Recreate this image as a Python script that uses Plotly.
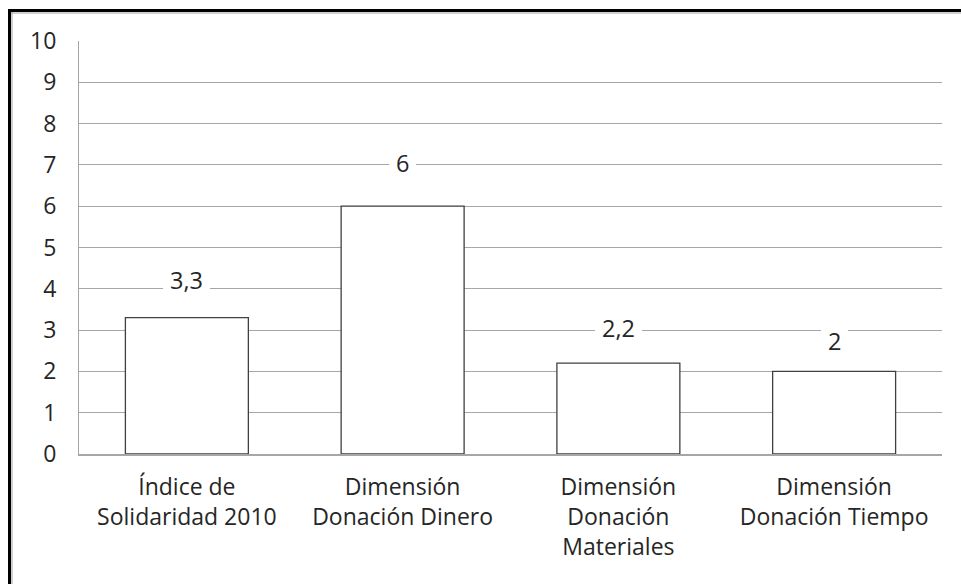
import plotly.graph_objects as go

categories = ["Índice de<br>Solidaridad 2010", "Dimensión<br>Donación Dinero",
              "Dimensión<br>Donación<br>Materiales", "Dimensión<br>Donación Tiempo"]
values = [3.3, 6, 2.2, 2]
y_ticks = list(range(0, 11))

# styling: vertical offset (px) of each data label above its bar
label_offsets_px = [38, 43, 35, 30]

W, H = 961, 584
L, R, T, B = 79, 19, 41, 130
pw, ph = W - L - R, H - T - B

def px_x(px):
    return (px - L) / pw

def px_y(py):
    return (H - B - py) / ph

FONT = "Open Sans"
TXT = "#262626"
fig = go.Figure()
fig.add_trace(go.Bar(
    x=categories, y=values,
    marker=dict(color="white", line=dict(color="#404040", width=1.3)),
    hoverinfo="skip",
))

for c, v, off in zip(categories, values, label_offsets_px):
    fig.add_annotation(
        x=c, y=v, xref="x", yref="y",
        text=f"{v:g}".replace(".", ","),
        showarrow=False, yanchor="middle", yshift=off,
        bgcolor="white", borderpad=7, borderwidth=0,
        font=dict(family=FONT, size=23.5, color=TXT),
    )

# outer frame (top and left edges visible)
fig.add_shape(type="line", xref="paper", yref="paper",
              x0=px_x(8), x1=px_x(W + 5), y0=px_y(13), y1=px_y(13),
              line=dict(color="#a0a0a0", width=1))
fig.add_shape(type="line", xref="paper", yref="paper",
              x0=px_x(12), x1=px_x(12), y0=px_y(12), y1=px_y(H + 5),
              line=dict(color="#a0a0a0", width=1))
fig.add_shape(type="line", xref="paper", yref="paper",
              x0=px_x(8), x1=px_x(W + 5), y0=px_y(10.5), y1=px_y(10.5),
              line=dict(color="black", width=3))
fig.add_shape(type="line", xref="paper", yref="paper",
              x0=px_x(9.5), x1=px_x(9.5), y0=px_y(9), y1=px_y(H + 5),
              line=dict(color="black", width=3))

fig.update_layout(
    width=W, height=H,
    margin=dict(l=L, r=R, t=T, b=B),
    paper_bgcolor="white", plot_bgcolor="white",
    bargap=0.43, showlegend=False,
    font=dict(family=FONT, size=23, color=TXT),
)
fig.update_yaxes(
    range=[0, 10], tickvals=y_ticks, ticktext=[str(t) for t in y_ticks],
    showgrid=True, gridcolor="#a6a6a6", gridwidth=1,
    showline=True, linecolor="#a6a6a6", linewidth=1,
    zeroline=False, ticks="", ticklabelstandoff=17,
    tickfont=dict(family=FONT, size=23, color=TXT),
)
fig.update_xaxes(
    showgrid=False, showline=True, linecolor="#a6a6a6", linewidth=1.5,
    ticks="", ticklabelstandoff=12,
    tickfont=dict(family=FONT, size=23, color=TXT),
)

fig.write_html("out.html", config={"displayModeBar": False},
               post_script="document.body.style.margin='0px';")
